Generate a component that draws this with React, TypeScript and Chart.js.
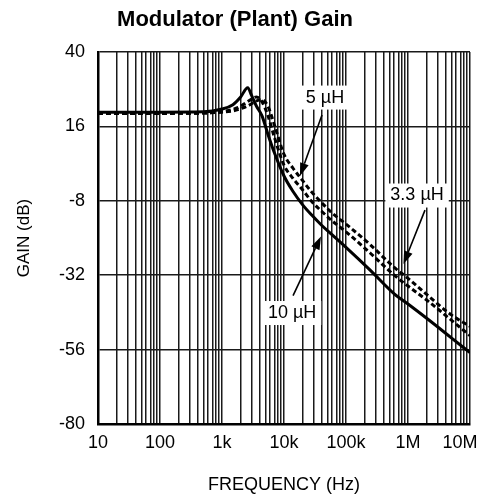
import React, { useEffect, useRef } from 'react';
import { Chart, registerables } from 'chart.js';

Chart.register(...registerables);

// ---- data ----
const frequencies = [10, 100, 500, 1000, 1500, 2000, 2600, 3000, 3600, 4400, 5500, 7000, 10000, 14000, 20000, 28000, 40000, 60000, 100000, 250000, 600000, 1000000, 2000000, 5000000, 10000000];
const gain10uH = [20.6, 20.6, 20.7, 21.6, 23.0, 25.5, 28.5, 26.0, 22.5, 19.5, 13.5, 7.5, 0.0, -5.0, -9.3, -12.6, -15.8, -19.0, -23.0, -30.5, -38.0, -41.3, -45.9, -52.2, -57.0];
const gain5uH = [20.2, 20.2, 20.3, 20.8, 21.5, 22.5, 24.0, 24.8, 25.5, 24.0, 19.5, 12.5, 3.5, -0.8, -4.5, -8.2, -11.3, -14.5, -18.0, -25.0, -32.0, -35.5, -40.0, -46.5, -51.5];
const gain3p3uH = [20.2, 20.2, 20.3, 20.6, 21.0, 21.7, 22.6, 23.3, 24.2, 24.6, 22.5, 16.5, 7.0, 2.5, -1.5, -5.2, -8.5, -12.0, -15.5, -22.3, -29.5, -33.0, -38.2, -44.8, -48.5];

const xMin = 10;
const xMax = 10000000;
const yTickValues = [-80, -56, -32, -8, 16, 40];
const xDecadeValues = [10, 100, 1000, 10000, 100000, 1000000, 10000000];
const xDecadeLabels = ['10', '100', '1k', '10k', '100k', '1M', '10M    '];

const calloutLabels = [
  { text: '5 µH', f: 45800, g: 25.3 },
  { text: '3.3 µH', f: 1400000, g: -6.3 },
  { text: '10 µH', f: 13500, g: -44.2 },
];
const calloutArrows = [
  { f1: 41000, g1: 19.7, f2: 18100, g2: 0.0 },
  { f1: 1880000, g1: -11.0, f2: 845000, g2: -28.4 },
  { f1: 14000, g1: -38.6, f2: 39500, g2: -19.5 },
];

const FONT = '"Liberation Sans", Arial, Helvetica, sans-serif';

const calloutPlugin = {
  id: 'callouts',
  afterDatasetsDraw(chart: any) {
    const ctx = chart.ctx;
    const xs = chart.scales.x;
    const ys = chart.scales.y;
    ctx.save();
    ctx.strokeStyle = '#000';
    ctx.fillStyle = '#000';
    ctx.lineWidth = 1.6;
    calloutArrows.forEach((a) => {
      const x1 = xs.getPixelForValue(a.f1);
      const y1 = ys.getPixelForValue(a.g1);
      const x2 = xs.getPixelForValue(a.f2);
      const y2 = ys.getPixelForValue(a.g2);
      const ang = Math.atan2(y2 - y1, x2 - x1);
      const headLen = 13;
      const headHalf = 4.5;
      const bx = x2 - headLen * Math.cos(ang);
      const by = y2 - headLen * Math.sin(ang);
      ctx.beginPath();
      ctx.moveTo(x1, y1);
      ctx.lineTo(bx, by);
      ctx.stroke();
      ctx.beginPath();
      ctx.moveTo(x2, y2);
      ctx.lineTo(bx + headHalf * Math.sin(ang), by - headHalf * Math.cos(ang));
      ctx.lineTo(bx - headHalf * Math.sin(ang), by + headHalf * Math.cos(ang));
      ctx.closePath();
      ctx.fill();
    });
    ctx.font = '18px ' + FONT;
    ctx.textAlign = 'center';
    ctx.textBaseline = 'middle';
    calloutLabels.forEach((l) => {
      const x = xs.getPixelForValue(l.f);
      const y = ys.getPixelForValue(l.g);
      const w = ctx.measureText(l.text).width;
      ctx.fillStyle = '#fff';
      ctx.fillRect(x - w / 2 - 5, y - 12, w + 10, 24);
      ctx.fillStyle = '#000';
      ctx.fillText(l.text, x, y);
    });
    ctx.restore();
  },
};

export default function App() {
  const canvasRef = useRef<HTMLCanvasElement | null>(null);

  useEffect(() => {
    const canvas = canvasRef.current;
    if (!canvas) return;
    const toPoints = (vals: number[]) => frequencies.map((f, i) => ({ x: f, y: vals[i] }));
    const common = {
      borderColor: '#000',
      backgroundColor: '#000',
      borderWidth: 3,
      pointRadius: 0,
      fill: false,
      cubicInterpolationMode: 'monotone' as const,
    };
    const chart = new Chart(canvas, {
      type: 'line',
      data: {
        datasets: [
          { ...common, label: '3.3 µH', data: toPoints(gain3p3uH), borderDash: [5, 3] },
          { ...common, label: '5 µH', data: toPoints(gain5uH), borderDash: [5, 3] },
          { ...common, label: '10 µH', data: toPoints(gain10uH) },
        ],
      },
      options: {
        animation: false,
        responsive: false,
        layout: { padding: { left: 0, right: 10, top: 0, bottom: 0 } },
        plugins: {
          legend: { display: false },
          tooltip: { enabled: false },
          title: {
            display: true,
            text: 'Modulator (Plant) Gain',
            color: '#000',
            font: { family: FONT, size: 22, weight: 'bold' },
            padding: { top: 7, bottom: 18.6 },
          },
        },
        scales: {
          x: {
            type: 'logarithmic',
            min: xMin,
            max: xMax,
            afterBuildTicks: (scale: any) => {
              const ticks: any[] = [];
              for (let d = xMin; d < xMax; d *= 10) {
                for (let m = 1; m < 10; m++) ticks.push({ value: d * m });
              }
              ticks.push({ value: xMax });
              scale.ticks = ticks;
            },
            afterFit: (scale: any) => {
              scale.height = 76;
              scale.paddingLeft = 0;
              scale.paddingRight = 0;
            },
            ticks: {
              autoSkip: false,
              maxRotation: 0,
              minRotation: 0,
              padding: 8,
              color: '#000',
              font: { family: FONT, size: 18 },
              callback: (value: any) => {
                const i = xDecadeValues.indexOf(Number(value));
                return i >= 0 ? xDecadeLabels[i] : '';
              },
            },
            grid: { color: '#1a1a1a', lineWidth: 1.5, drawTicks: false },
            border: { display: true, color: '#000', width: 2.5 },
            title: {
              display: true,
              text: 'FREQUENCY (Hz)',
              color: '#000',
              font: { family: FONT, size: 18 },
              padding: { top: 0, bottom: 4 },
            },
          },
          y: {
            type: 'linear',
            min: -80,
            max: 40,
            afterBuildTicks: (scale: any) => {
              scale.ticks = yTickValues.map((v) => ({ value: v }));
            },
            afterFit: (scale: any) => {
              scale.width = 98;
            },
            ticks: {
              padding: 13,
              color: '#000',
              font: { family: FONT, size: 18 },
            },
            grid: { color: '#1a1a1a', lineWidth: 1.5, drawTicks: false },
            border: { display: true, color: '#000', width: 2.5 },
            title: {
              display: true,
              text: 'GAIN (dB)',
              color: '#000',
              font: { family: FONT, size: 17 },
              padding: { top: 14, bottom: 0 },
            },
          },
        },
      },
      plugins: [calloutPlugin],
    });
    return () => chart.destroy();
  }, []);

  return (
    <div style={{ position: 'absolute', left: 0, top: 0, width: 480, height: 500, background: '#fff' }}>
      <canvas ref={canvasRef} width={480} height={500} />
    </div>
  );
}
